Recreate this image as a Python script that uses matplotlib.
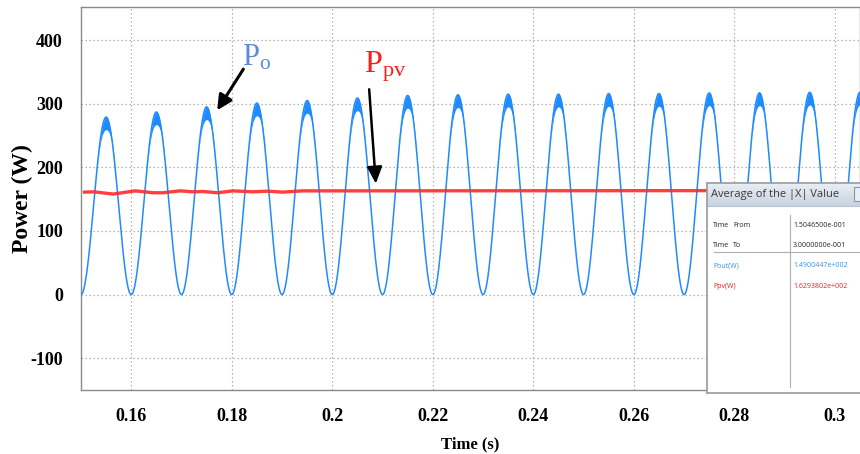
"""
Power waveforms: output power Po (100 Hz pulsating) and PV power Ppv,
with the simulator's "Average of the |X| Value" readout box.
"""

import numpy as np
import matplotlib.pyplot as plt
from matplotlib.patches import Rectangle
from matplotlib.colors import LinearSegmentedColormap

plt.rcParams["axes.unicode_minus"] = False

# ── data ────────────────────────────────────────────────────────────────────
T_START, T_END = 0.15, 0.305
CYCLE = 0.01                                   # one power pulse per 10 ms
PO_PEAKS = [279, 287, 295, 301, 305, 309, 313, 314,
            315, 315, 316, 316, 317, 317, 318, 318]   # W, peak of each pulse
PO_RIPPLE = 20                                 # W, switching ripple band at the crests

PPV_T = [0.1507, 0.1525, 0.1564, 0.1608, 0.1644, 0.1663, 0.1697, 0.1723,
         0.1743, 0.1772, 0.1802, 0.1842, 0.1871, 0.1901, 0.1941, 0.2000, 0.305]
PPV_W = [161, 161.5, 158, 163, 160, 160, 163, 161.5,
         162, 160, 163, 161.5, 162.5, 161, 163, 163, 163.5]

X_TICKS = [0.16, 0.18, 0.2, 0.22, 0.24, 0.26, 0.28, 0.3]
X_TICKLABELS = ["0.16", "0.18", "0.2", "0.22", "0.24", "0.26", "0.28", "0.3"]
Y_TICKS = [-100, 0, 100, 200, 300, 400]

READOUT_ROWS = [("Time", "From", "1.5046500e-001", "#222222"),
                ("Time", "To", "3.0000000e-001", "#222222"),
                ("Pout(W)", "", "1.4900447e+002", "#3b8fe8"),
                ("Ppv(W)", "", "1.6293802e+002", "#f02020")]

BLUE = "#1f8bff"
RED = "#ff2a2a"
SERIF = ["Liberation Serif", "DejaVu Serif"]
SANS = ["Open Sans", "DejaVu Sans"]

# ── waveform for Po: each pulse is a sin^2 lobe scaled to its read peak ─────
t = np.linspace(T_START, T_END, 40000)
idx = np.clip(((t - T_START) // CYCLE).astype(int), 0, len(PO_PEAKS) - 1)
lobe = np.sin(np.pi * (t - T_START) / CYCLE) ** 2
po = np.array(PO_PEAKS)[idx] * lobe
band = PO_RIPPLE * lobe ** 8

fig = plt.figure(figsize=(8.6, 4.54), dpi=100)
ax = fig.add_axes([81 / 860, 1 - 390 / 454, 779 / 860, 383 / 454])

ax.fill_between(t, po - band, po, color=BLUE, linewidth=0, zorder=2)
ax.plot(t, po, color=BLUE, linewidth=1.1, zorder=3)
ax.plot(PPV_T, PPV_W, color=RED, linewidth=2.4, alpha=0.9, zorder=4)

ax.set_xlim(T_START, T_END)
ax.set_ylim(-150, 452)
ax.set_xticks(X_TICKS)
ax.set_xticklabels(X_TICKLABELS)
ax.set_yticks(Y_TICKS)
ax.tick_params(axis="both", length=0, labelsize=13)
ax.tick_params(axis="x", pad=13)
ax.tick_params(axis="y", pad=13)
for lab in ax.get_xticklabels() + ax.get_yticklabels():
    lab.set_family(SERIF)
    lab.set_fontweight("bold")
ax.grid(True, linestyle=(0, (1.2, 2)), color="#b0b0b0", linewidth=0.9)
for sp in ax.spines.values():
    sp.set_color("#8a8a8a")
    sp.set_linewidth(1.0)

ax.set_ylabel("Power (W)", family=SERIF, fontweight="bold", fontsize=17, labelpad=-2)
ax.set_xlabel("Time (s)", family=SERIF, fontweight="bold", fontsize=12, labelpad=8)

# ── annotations ─────────────────────────────────────────────────────────────
ax.text(0.1850, 372, r"$\mathregular{P_{o}}$", color="#5b8bd0", fontsize=22,
        family=SERIF, ha="center", va="center")
ax.annotate("", xy=(0.1768, 286), xytext=(0.1826, 358),
            arrowprops=dict(arrowstyle="-|>,head_length=0.9,head_width=0.45",
                            color="black", lw=2.2))
ax.text(0.2105, 358, r"$\mathregular{P_{pv}}$", color="#ff1a1a", fontsize=23,
        family=SERIF, ha="center", va="center")
ax.annotate("", xy=(0.2087, 170), xytext=(0.2073, 327),
            arrowprops=dict(arrowstyle="-|>,head_length=1.0,head_width=0.45",
                            color="black", lw=1.8))

# ── readout box (pixel-like layout inside its own axes) ─────────────────────
ins = fig.add_axes([707 / 860, 1 - 393 / 454, 170 / 860, 210 / 454])
ins.set_xlim(0, 170)
ins.set_ylim(210, 0)
ins.set_xticks([])
ins.set_yticks([])
for sp in ins.spines.values():
    sp.set_color("#9a9a9a")
    sp.set_linewidth(1.2)

grad = np.linspace(0, 1, 50).reshape(-1, 1)
ins.imshow(grad, extent=(0, 170, 23, 0), aspect="auto",
           cmap=LinearSegmentedColormap.from_list("bar", ["#e9eff5", "#c7d3e0"]),
           zorder=1)
ins.plot([0, 170], [23, 23], color="#b8c4d0", lw=0.8, zorder=2)
ins.text(4, 12, "Average of the |X| Value", fontsize=8, color="#3a3a3a",
         family=SANS, va="center", zorder=3)
ins.add_patch(Rectangle((147, 4), 14, 14, facecolor="#e8eef4",
                        edgecolor="#8a96a2", lw=0.8, zorder=3))

rows_y = [43, 63, 83, 103]
for (a, b, val, col), y in zip(READOUT_ROWS, rows_y):
    ins.text(6, y, a, fontsize=5, color=col, va="center", family=SANS)
    if b:
        ins.text(26, y, b, fontsize=5, color=col, va="center", family=SANS)
    ins.text(86, y, val, fontsize=5, color=col, va="center", family=SANS)
ins.plot([83, 83], [32, 204], color="#b0b0b0", lw=0.8)
ins.plot([7, 170], [69, 69], color="#b0b0b0", lw=0.8)

fig.savefig("out.png", dpi=100)
